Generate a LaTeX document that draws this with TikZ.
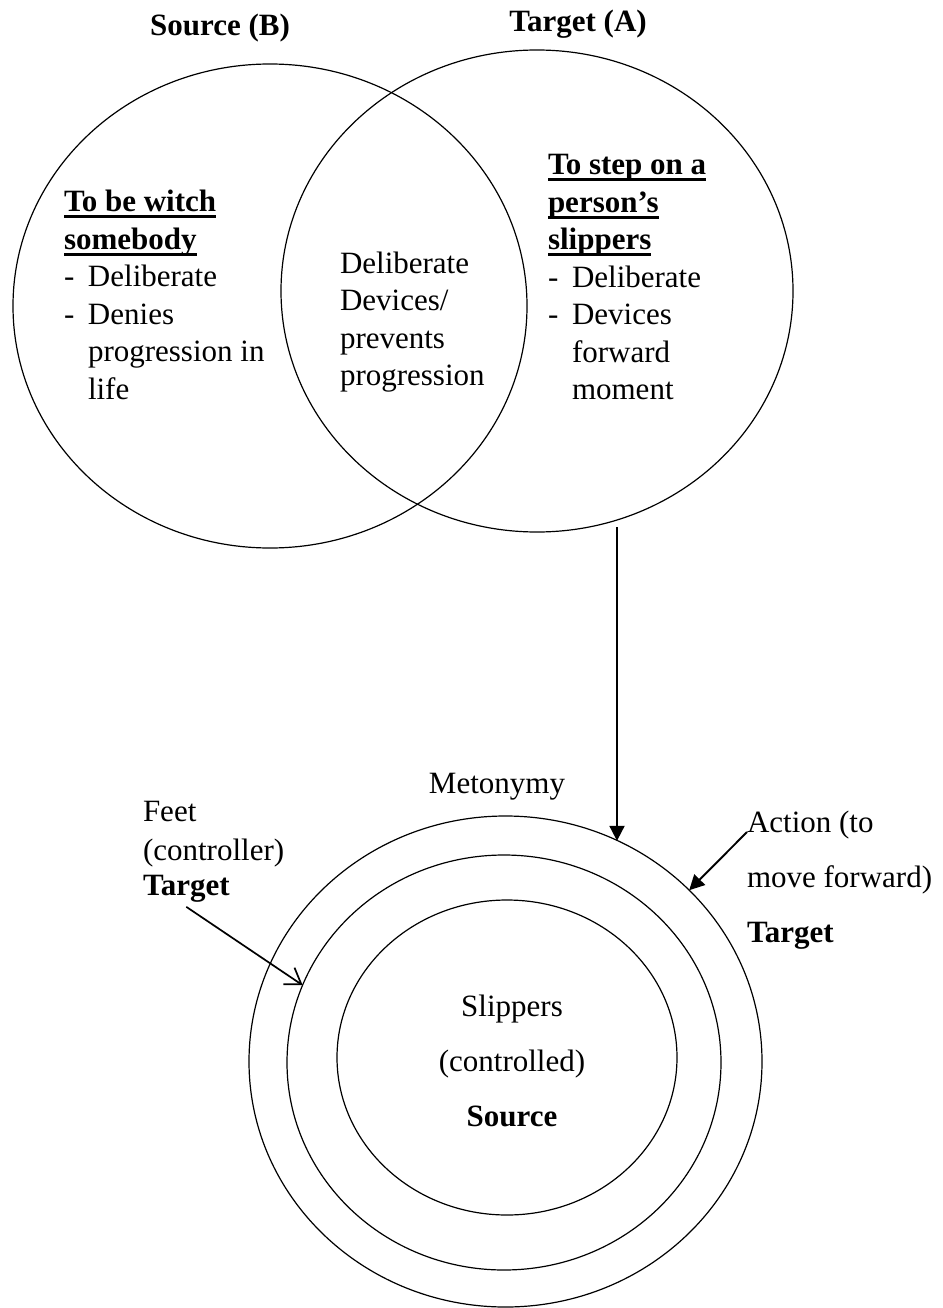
\documentclass[tikz,border=0pt]{standalone}
\usepackage{fontspec}
\setmainfont{Liberation Serif}
\usetikzlibrary{arrows.meta,shapes.geometric}
% bold heading with a heavy rule beneath it
\newcommand\barunder[1]{\setbox0=\hbox{#1}\rlap{\rule[-6.5pt]{\wd0}{2.6pt}}\box0}
\begin{document}
\begin{tikzpicture}[x=1pt,y=-1pt,
  txt/.style={inner sep=0pt, outer sep=0pt, font=\fontsize{31pt}{37pt}\selectfont},
  bf/.style={font=\fontsize{31pt}{37pt}\selectfont\bfseries},
  lbl/.style={txt, anchor=base west},
  ctr/.style={txt, anchor=base},
  ring/.style={draw, ellipse, line width=1.2pt, inner sep=0pt, outer sep=0pt},
  heavy/.style={line width=1.9pt},
  solidtip/.style={-{Triangle[length=15pt,width=15pt]}},
  barbtip/.style={-{Straight Barb[length=15pt,width=20pt]}},
]
\useasboundingbox (0,0) rectangle (942,1308);
\fill[white] (0,0) rectangle (942,1308);

% Venn diagram: source and target domains
\node[ring, minimum width=514pt, minimum height=484pt] (srcB) at (270,306) {};
\node[ring, minimum width=512pt, minimum height=482pt] (tgtA) at (537,291) {};

\node[ctr,bf] (srcTitle) at (220,36) {Source (B)};
\node[ctr,bf] (tgtTitle) at (578,32) {Target (A)};

% source domain
\node[lbl,bf] (b1) at (64,211.5) {\barunder{To be witch}};
\node[lbl,bf] (b2) at (64,249) {\barunder{somebody}};
\node[lbl] (b3) at (64,286.5) {\makebox[24pt][l]{-}Deliberate};
\node[lbl] (b4) at (64,324) {\makebox[24pt][l]{-}Denies};
\node[lbl] (b5) at (88,361.5) {progression in};
\node[lbl] (b6) at (88,399) {life};

% shared features
\node[lbl] (c1) at (340,273) {Deliberate};
\node[lbl] (c2) at (340,310.5) {Devices/};
\node[lbl] (c3) at (340,348) {prevents};
\node[lbl] (c4) at (340,385.5) {progression};

% target domain
\node[lbl,bf] (a1) at (548,174.5) {\barunder{To step on a}};
\node[lbl,bf] (a2) at (548,212) {\barunder{person’s}};
\node[lbl,bf] (a3) at (548,249.5) {\barunder{slippers}};
\node[lbl] (a4) at (548,287) {\makebox[24pt][l]{-}Deliberate};
\node[lbl] (a5) at (548,324.5) {\makebox[24pt][l]{-}Devices};
\node[lbl] (a6) at (572,362) {forward};
\node[lbl] (a7) at (572,399.5) {moment};

% metonymy rings
\node[ring, minimum width=513pt, minimum height=491pt] (outer) at (505.5,1061.5) {};
\node[ring, minimum width=434pt, minimum height=415pt] (middle) at (504,1062.5) {};
\node[ring, minimum width=340pt, minimum height=315pt] (inner) at (507,1057.5) {};

\node[ctr] (meto) at (497,793) {Metonymy};
\node[lbl] (feet1) at (143,821) {Feet};
\node[lbl] (feet2) at (143,860) {(controller)};
\node[lbl,bf] (feet3) at (143,895) {Target};
\node[lbl] (act1) at (747,832) {Action (to};
\node[lbl] (act2) at (747,887) {move forward)};
\node[lbl,bf] (act3) at (747,942) {Target};
\node[ctr] (in1) at (512,1016) {Slippers};
\node[ctr] (in2) at (512,1071) {(controlled)};
\node[ctr,bf] (in3) at (512,1126) {Source};

% connectors
\coordinate (mapTop) at (617,527);
\draw[heavy,solidtip] (mapTop) -- (mapTop |- outer.63.4);
\draw[heavy,solidtip] (act1.base west) -- (outer.43.6);
\draw[line width=1.7pt,barbtip] ([yshift=-5pt]feet3.south) -- (middle.159.6);
\end{tikzpicture}
\end{document}
